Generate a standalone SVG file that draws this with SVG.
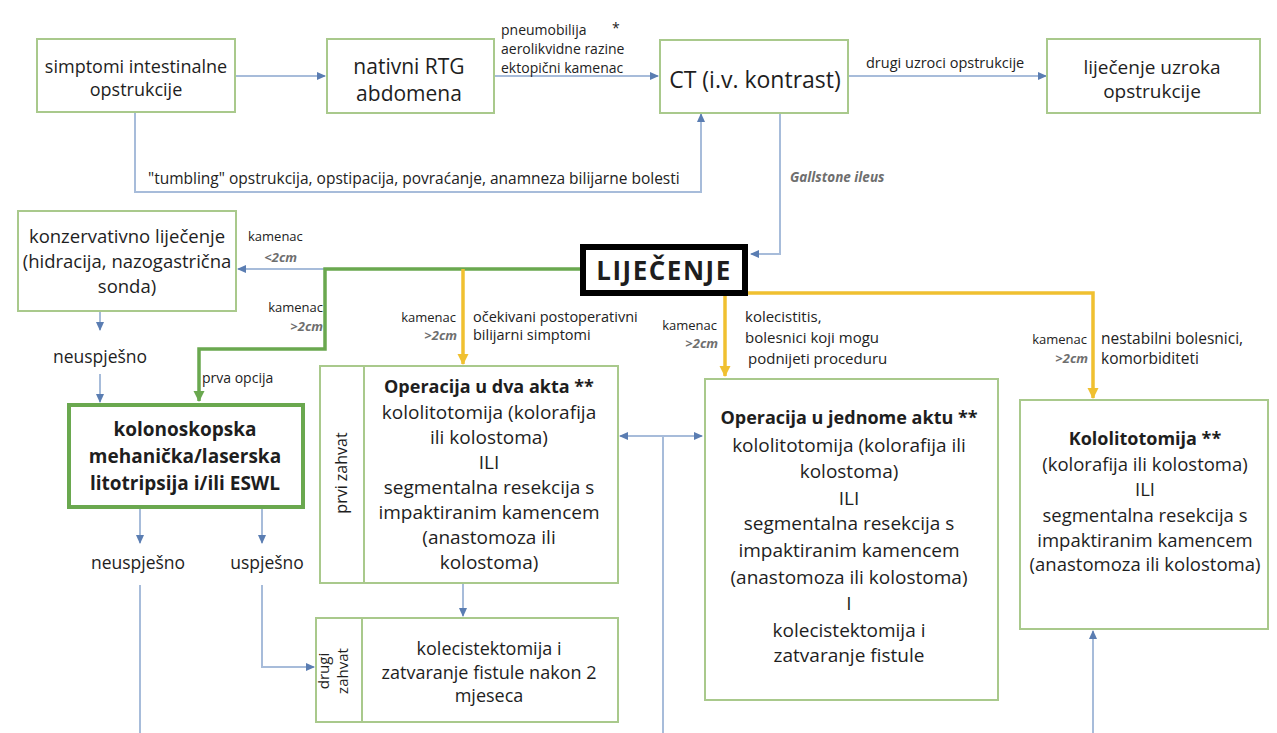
<svg xmlns="http://www.w3.org/2000/svg" width="1277" height="733" viewBox="0 0 1277 733">
<defs>
<style>
.box{fill:#fff;stroke:#a9c98c;stroke-width:2}
.t{font-family:"Open Sans","Liberation Sans",sans-serif;fill:#1e1e1e;text-anchor:middle}
.l{font-family:"Open Sans","Liberation Sans",sans-serif;fill:#222}
.e{text-anchor:end}
.cm{font-family:"Open Sans","Liberation Sans",sans-serif;font-style:italic;font-weight:bold;fill:#6e6e6e;font-size:13px}
.b{font-weight:bold}
.c{fill:none;stroke:#a7bcda;stroke-width:2}
.g{fill:none;stroke:#6aa84f;stroke-width:3.5}
.y{fill:none;stroke:#f0c030;stroke-width:3.5}
</style>
<marker id="ab" markerUnits="userSpaceOnUse" markerWidth="9" markerHeight="9" refX="8" refY="4.5" orient="auto-start-reverse"><path d="M0,0.5 L9,4.5 L0,8.5 z" fill="#5a7db2"/></marker>
<marker id="ag" markerUnits="userSpaceOnUse" markerWidth="12" markerHeight="12" refX="10" refY="6" orient="auto"><path d="M0,0.5 L11,6 L0,11.5 z" fill="#6aa84f"/></marker>
<marker id="ay" markerUnits="userSpaceOnUse" markerWidth="12" markerHeight="12" refX="10" refY="6" orient="auto"><path d="M0,0.5 L11,6 L0,11.5 z" fill="#f0c030"/></marker>
<filter id="blur"><feGaussianBlur stdDeviation="1.5"/></filter>
</defs>
<rect width="1277" height="733" fill="#fff"/>
<line x1="8" y1="10" x2="1256" y2="10" stroke="#c8c8c8" stroke-width="3" filter="url(#blur)"/>

<g id="connectors">
<path class="c" d="M235 76 H325" marker-end="url(#ab)"/>
<path class="c" d="M494 76 H658" marker-end="url(#ab)"/>
<path class="c" d="M848 76 H1046" marker-end="url(#ab)"/>
<path class="c" d="M135 112 V192 H701 V114" marker-end="url(#ab)"/>
<path class="c" d="M780 113 V254 H751" marker-end="url(#ab)"/>
<path class="c" d="M325 269 H238" marker-end="url(#ab)"/>
<path class="g" d="M582 269 H325 V349 H199 V401" marker-end="url(#ag)"/>
<path class="y" d="M463 269 V364" marker-end="url(#ay)"/>
<path class="y" d="M725 295 V376" marker-end="url(#ay)"/>
<path class="y" d="M745 293 H1093 V398" marker-end="url(#ay)"/>
<path class="c" d="M100 312 V330" marker-end="url(#ab)"/>
<path class="c" d="M100 374 V402" marker-end="url(#ab)"/>
<path class="c" d="M140 509 V543" marker-end="url(#ab)"/>
<path class="c" d="M262 509 V543" marker-end="url(#ab)"/>
<path class="c" d="M140 585 V733"/>
<path class="c" d="M262 585 V667 H314" marker-end="url(#ab)"/>
<path class="c" d="M463 584 V616" marker-end="url(#ab)"/>
<path class="c" d="M620 436 H702" marker-start="url(#ab)" marker-end="url(#ab)"/>
<path class="c" d="M663 436 V733"/>
<path class="c" d="M1093 733 V631" marker-end="url(#ab)"/>
</g>

<g id="labels">
<text class="l" font-size="14" x="501" y="35">pneumobilija</text>
<text class="l" font-size="14" x="612" y="33">*</text>
<text class="l" font-size="14" x="501" y="54">aerolikvidne razine</text>
<text class="l" font-size="14" x="501" y="73">ektopični kamenac</text>
<text class="l" font-size="14.5" x="866" y="68">drugi uzroci opstrukcije</text>
<text class="l" font-size="15.5" x="148" y="184">"tumbling" opstrukcija, opstipacija, povraćanje, anamneza bilijarne bolesti</text>
<text class="cm" x="790" y="182" style="font-size:13.5px">Gallstone ileus</text>
<text class="l" font-size="13" x="248" y="241">kamenac</text>
<text class="cm e" x="297" y="262">&lt;2cm</text>
<text class="l e" font-size="13" x="323" y="312">kamenac</text>
<text class="cm e" x="323" y="331">&gt;2cm</text>
<text class="l" font-size="14" x="202" y="383">prva opcija</text>
<text class="l e" font-size="13" x="456" y="322">kamenac</text>
<text class="cm e" x="457" y="340">&gt;2cm</text>
<text class="l" font-size="14.5" x="473" y="322">očekivani postoperativni</text>
<text class="l" font-size="14.5" x="473" y="340">bilijarni simptomi</text>
<text class="l e" font-size="13" x="717" y="330">kamenac</text>
<text class="cm e" x="718" y="348">&gt;2cm</text>
<text class="l" font-size="15" x="745" y="322">kolecistitis,</text>
<text class="l" font-size="15" x="745" y="343">bolesnici koji mogu</text>
<text class="l" font-size="15" x="748" y="364">podnijeti proceduru</text>
<text class="l e" font-size="13" x="1087" y="344">kamenac</text>
<text class="cm e" x="1088" y="363">&gt;2cm</text>
<text class="l" font-size="15.5" x="1101" y="344">nestabilni bolesnici,</text>
<text class="l" font-size="15.5" x="1101" y="364">komorbiditeti</text>
<text class="t" font-size="17.5" x="100" y="363">neuspješno</text>
<text class="t" font-size="17.5" x="138" y="569">neuspješno</text>
<text class="t" font-size="17.5" x="267" y="569">uspješno</text>
</g>

<g id="n1">
<rect class="box" x="37" y="39" width="198" height="73"/>
<text class="t" font-size="18" x="136" y="73">simptomi intestinalne</text>
<text class="t" font-size="18" x="136" y="96">opstrukcije</text>
</g>
<g id="n2">
<rect class="box" x="327" y="39" width="167" height="74"/>
<text class="t" font-size="21" x="409" y="74">nativni RTG</text>
<text class="t" font-size="21" x="409" y="101">abdomena</text>
</g>
<g id="n3">
<rect class="box" x="660" y="40" width="188" height="73"/>
<text class="t" font-size="23" x="755" y="88">CT (i.v. kontrast)</text>
</g>
<g id="n4">
<rect class="box" x="1047" y="39" width="213" height="74"/>
<text class="t" font-size="19" x="1152" y="74">liječenje uzroka</text>
<text class="t" font-size="19" x="1152" y="98">opstrukcije</text>
</g>
<g id="n5">
<rect x="583" y="247" width="162" height="46" fill="#fff" stroke="#000" stroke-width="6"/>
<text class="t b" font-size="26" letter-spacing="1.5" x="664" y="280" fill="#000">LIJEČENJE</text>
</g>
<g id="n6">
<rect class="box" x="18" y="211" width="218" height="100"/>
<text class="t" font-size="18.5" x="127" y="243">konzervativno liječenje</text>
<text class="t" font-size="18.5" x="127" y="268">(hidracija, nazogastrična</text>
<text class="t" font-size="18.5" x="127" y="293">sonda)</text>
</g>
<g id="n7">
<rect x="69" y="405" width="234" height="102" fill="#fff" stroke="#6aa84f" stroke-width="4"/>
<text class="t b" font-size="19" x="185" y="436">kolonoskopska</text>
<text class="t b" font-size="19" x="185" y="463">mehanička/laserska</text>
<text class="t b" font-size="19" x="185" y="490">litotripsija i/ili ESWL</text>
</g>
<g id="n8">
<rect class="box" x="320" y="366" width="298" height="217"/>
<line x1="364" y1="366" x2="364" y2="583" stroke="#a9c98c" stroke-width="2"/>
<text class="t" font-size="16" transform="translate(347 473) rotate(-90)">prvi zahvat</text>
<text class="t b" font-size="18" x="489" y="393">Operacija u dva akta **</text>
<text class="t" font-size="19" x="489" y="418.5">kololitotomija (kolorafija</text>
<text class="t" font-size="19" x="489" y="443.5">ili kolostoma)</text>
<text class="t" font-size="19" x="489" y="468.5">ILI</text>
<text class="t" font-size="19" x="489" y="493.5">segmentalna resekcija s</text>
<text class="t" font-size="19" x="489" y="518.5">impaktiranim kamencem</text>
<text class="t" font-size="19" x="489" y="543.5">(anastomoza ili</text>
<text class="t" font-size="19" x="489" y="568.5">kolostoma)</text>
</g>
<g id="n9">
<rect class="box" x="316" y="618" width="302" height="104"/>
<line x1="362" y1="618" x2="362" y2="722" stroke="#a9c98c" stroke-width="2"/>
<text class="t" font-size="15" transform="translate(329 671) rotate(-90)">drugi</text>
<text class="t" font-size="15" transform="translate(348 671) rotate(-90)">zahvat</text>
<text class="t" font-size="18" x="489" y="655">kolecistektomija i</text>
<text class="t" font-size="18" x="489" y="679">zatvaranje fistule nakon 2</text>
<text class="t" font-size="18" x="489" y="702">mjeseca</text>
</g>
<g id="n10">
<rect class="box" x="705" y="379" width="293" height="321"/>
<text class="t b" font-size="18" x="849" y="424">Operacija u jednome aktu **</text>
<text class="t" font-size="19" x="849" y="451.5">kololitotomija (kolorafija ili</text>
<text class="t" font-size="19" x="849" y="477.5">kolostoma)</text>
<text class="t" font-size="19" x="849" y="504.5">ILI</text>
<text class="t" font-size="19" x="849" y="529.5">segmentalna resekcija s</text>
<text class="t" font-size="19" x="849" y="556.5">impaktiranim kamencem</text>
<text class="t" font-size="19" x="849" y="583.5">(anastomoza ili kolostoma)</text>
<text class="t" font-size="19" x="849" y="609.5">I</text>
<text class="t" font-size="19" x="849" y="636.5">kolecistektomija i</text>
<text class="t" font-size="19" x="849" y="661.5">zatvaranje fistule</text>
</g>
<g id="n11">
<rect class="box" x="1020" y="400" width="248" height="229"/>
<text class="t b" font-size="18" x="1145" y="445">Kololitotomija **</text>
<text class="t" font-size="18.5" x="1145" y="470.5">(kolorafija ili kolostoma)</text>
<text class="t" font-size="18.5" x="1145" y="495.5">ILI</text>
<text class="t" font-size="18.5" x="1145" y="521.5">segmentalna resekcija s</text>
<text class="t" font-size="18.5" x="1145" y="546.5">impaktiranim kamencem</text>
<text class="t" font-size="18.5" x="1145" y="570.5">(anastomoza ili kolostoma)</text>
</g>
</svg>
